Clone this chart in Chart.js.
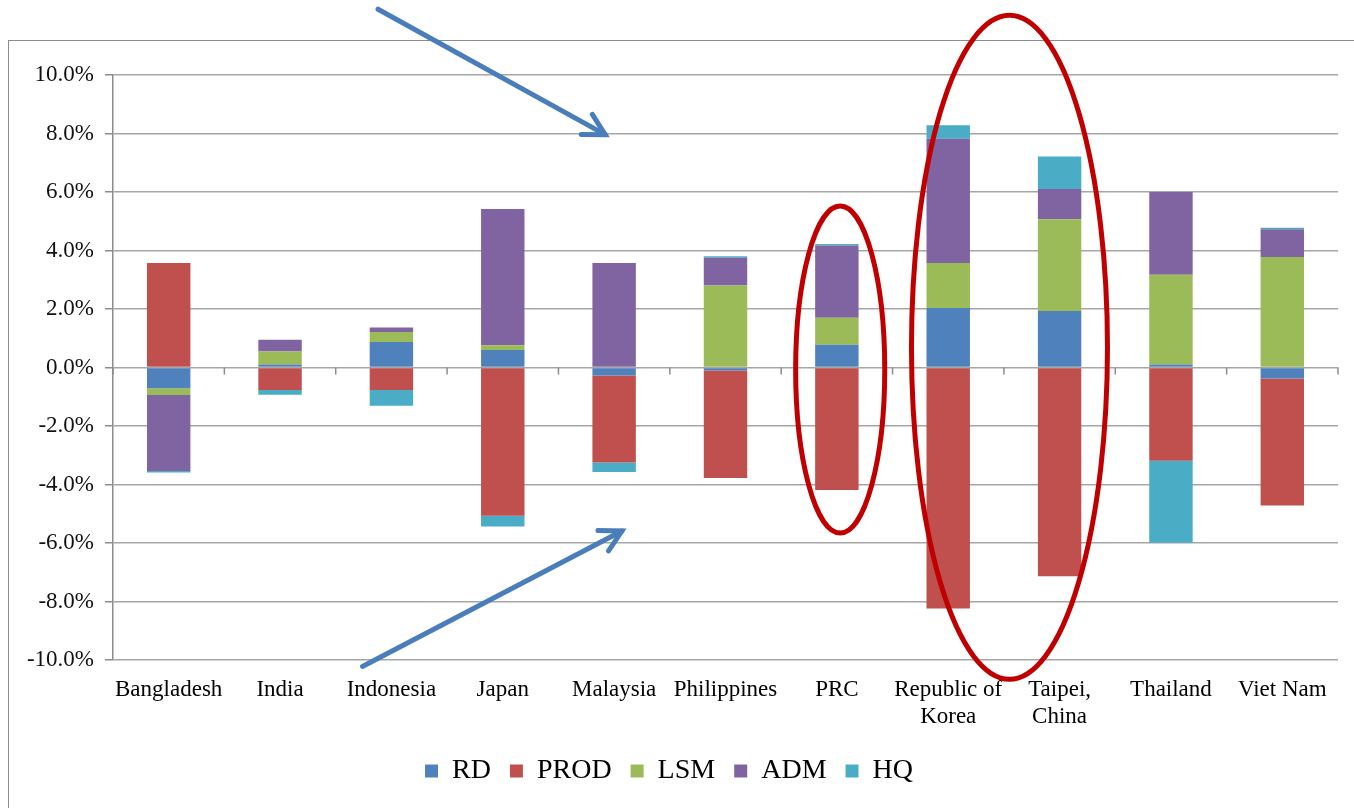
<!DOCTYPE html>
<html>
<head>
<meta charset="utf-8">
<script src="https://cdn.jsdelivr.net/npm/chart.js@4.4.1/dist/chart.umd.min.js"></script>
<style>
  html, body { margin: 0; padding: 0; background: #fff; overflow: hidden; }
  #frame { position: absolute; left: 8px; top: 40px; width: 1400px; height: 800px; border: 1px solid #8c8c8c; }
  #wrap { position: absolute; left: 0; top: 0; width: 1354px; height: 808px; }
</style>
</head>
<body>
<div id="frame"></div>
<div id="wrap"><canvas id="chart"></canvas></div>
<script>
// data (percent) -------------------------------------------------------------
const categories = ['Bangladesh', 'India', 'Indonesia', 'Japan', 'Malaysia', 'Philippines', 'PRC',
  ['Republic of', 'Korea'], ['Taipei,', 'China'], 'Thailand', 'Viet Nam'];
const seriesNames = ['RD', 'PROD', 'LSM', 'ADM', 'HQ'];
const rd   = [-0.71, 0.10, 0.87, 0.60, -0.27, -0.10, 0.78, 2.03, 1.93, 0.10, -0.38];
const prod = [3.57, -0.77, -0.77, -5.07, -2.98, -3.68, -4.19, -8.24, -7.14, -3.19, -4.34];
const lsm  = [-0.23, 0.45, 0.34, 0.16, 0.00, 2.80, 0.92, 1.54, 3.14, 3.07, 3.78];
const adm  = [-2.60, 0.40, 0.16, 4.66, 3.57, 0.95, 2.47, 4.25, 1.03, 2.83, 0.95];
const hq   = [-0.05, -0.16, -0.54, -0.37, -0.32, 0.05, 0.05, 0.46, 1.11, -2.80, 0.05];
const yTicks = [-10, -8, -6, -4, -2, 0, 2, 4, 6, 8, 10];

const colors = ['#4F81BD', '#C0504D', '#9BBB59', '#8064A2', '#4BACC6'];

// annotations, in scale units (category index, percent)
const ellipses = [
  { cx: 6.03, cy: -0.07, rx: 0.40, top: 5.52 },
  { cx: 7.55, cy: 0.69, rx: 0.88, top: 12.04 }
];
const arrows = [
  { from: [1.88, 12.25], to: [3.92, 7.96] },
  { from: [1.74, -10.22], to: [4.07, -5.59] }
];

const annotate = {
  id: 'annotate',
  afterDraw(chart) {
    const c = chart.ctx, x = chart.scales.x, y = chart.scales.y;
    const catW = x.getPixelForValue(1) - x.getPixelForValue(0);
    c.save();
    // tick marks on the zero line, between categories
    c.strokeStyle = '#8c8c8c';
    c.lineWidth = 1.5;
    const y0 = y.getPixelForValue(0);
    for (let i = 0; i <= categories.length; i++) {
      const px = x.getPixelForValue(i - 0.5);
      c.beginPath(); c.moveTo(px, y0); c.lineTo(px, y0 + 7); c.stroke();
    }
    c.strokeStyle = '#C00000';
    c.lineWidth = 5;
    ellipses.forEach(e => {
      const cx = x.getPixelForValue(e.cx), cy = y.getPixelForValue(e.cy);
      const ry = cy - y.getPixelForValue(e.top);
      c.beginPath();
      c.ellipse(cx, cy, e.rx * catW, ry, 0, 0, Math.PI * 2);
      c.stroke();
    });
    c.strokeStyle = '#4A7EBB';
    c.lineCap = 'round';
    arrows.forEach(a => {
      const x1 = x.getPixelForValue(a.from[0]), y1 = y.getPixelForValue(a.from[1]);
      const x2 = x.getPixelForValue(a.to[0]), y2 = y.getPixelForValue(a.to[1]);
      const ang = Math.atan2(y2 - y1, x2 - x1);
      c.beginPath(); c.moveTo(x1, y1); c.lineTo(x2, y2); c.stroke();
      c.beginPath();
      c.moveTo(x2 - 24 * Math.cos(ang - 0.5), y2 - 24 * Math.sin(ang - 0.5));
      c.lineTo(x2, y2);
      c.lineTo(x2 - 24 * Math.cos(ang + 0.5), y2 - 24 * Math.sin(ang + 0.5));
      c.stroke();
    });
    c.restore();
  }
};

const allSeries = [rd, prod, lsm, adm, hq];
new Chart(document.getElementById('chart'), {
  type: 'bar',
  data: {
    labels: categories,
    datasets: seriesNames.map((name, i) => ({
      label: name,
      data: allSeries[i],
      backgroundColor: colors[i],
      borderWidth: 0,
      categoryPercentage: 0.39,
      barPercentage: 1
    }))
  },
  options: {
    responsive: true,
    maintainAspectRatio: false,
    animation: false,
    layout: { padding: { left: 0, right: 16, top: 75, bottom: 13 } },
    scales: {
      x: {
        stacked: true,
        grid: { display: false },
        border: { display: false },
        ticks: {
          color: '#000',
          padding: 8,
          maxRotation: 0,
          autoSkip: false,
          font: { family: 'Liberation Serif', size: 23, lineHeight: 1.18 }
        },
        afterFit(scale) { scale.height = 78; }
      },
      y: {
        stacked: true,
        min: -10,
        max: 10,
        afterBuildTicks(scale) { scale.ticks = yTicks.map(v => ({ value: v })); },
        grid: { color: '#a6a6a6', lineWidth: 1.5, tickLength: 8, tickColor: '#8c8c8c' },
        border: { color: '#8c8c8c', width: 1.5 },
        ticks: {
          color: '#111',
          padding: 11,
          font: { family: 'Liberation Serif', size: 23 },
          callback: v => v.toFixed(1) + '%'
        },
        afterFit(scale) { scale.width = 113; }
      }
    },
    plugins: {
      legend: {
        position: 'bottom',
        labels: {
          color: '#000',
          boxWidth: 13,
          boxHeight: 13,
          padding: 19,
          font: { family: 'Liberation Serif', size: 28 }
        }
      },
      tooltip: { enabled: false }
    }
  },
  plugins: [annotate]
});
</script>
</body>
</html>
